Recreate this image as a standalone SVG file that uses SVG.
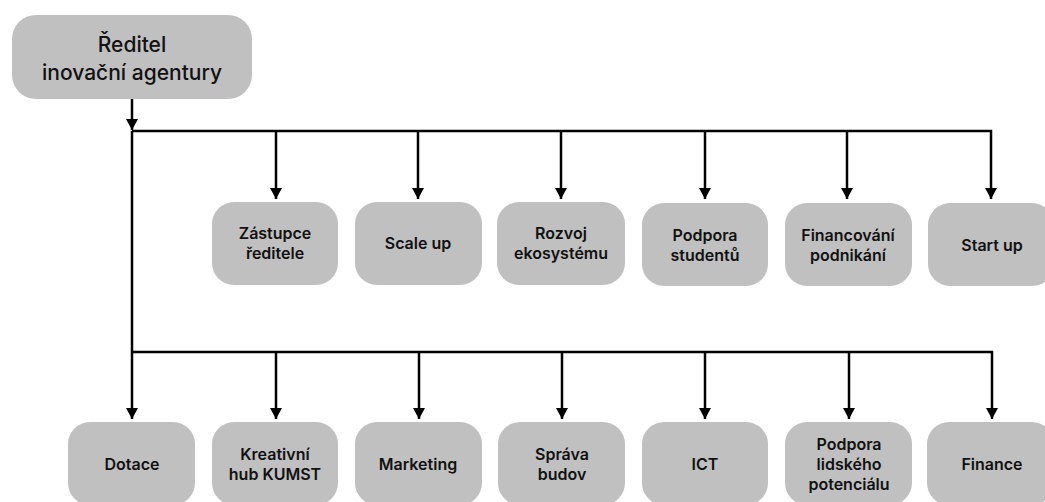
<svg xmlns="http://www.w3.org/2000/svg" width="1045" height="502" viewBox="0 0 1045 502">
<style>
.box{fill:#c0c0c0;}
.t{font-family:Inter,"Liberation Sans",sans-serif;font-size:16px;font-weight:600;fill:#111;text-anchor:middle;}
.tt{font-family:Inter,"Liberation Sans",sans-serif;font-size:21px;font-weight:500;fill:#111;text-anchor:middle;}
.c{stroke:#000;stroke-width:2.5;fill:none;}
</style>
<defs>
<marker id="ah" markerUnits="userSpaceOnUse" markerWidth="12" markerHeight="12" refX="11" refY="6" orient="auto">
<path d="M0,0 L11,6 L0,12 z" fill="#000"/>
</marker>
</defs>
<rect width="1045" height="502" fill="#fff"/>
<g id="connectors">
<line class="c" x1="132" y1="99" x2="132" y2="130" marker-end="url(#ah)"/>
<polyline class="c" points="132,131 991,131 991,199" marker-end="url(#ah)"/>
<line class="c" x1="276" y1="131" x2="276" y2="199" marker-end="url(#ah)"/>
<line class="c" x1="418" y1="131" x2="418" y2="199" marker-end="url(#ah)"/>
<line class="c" x1="561" y1="131" x2="561" y2="199" marker-end="url(#ah)"/>
<line class="c" x1="705" y1="131" x2="705" y2="199" marker-end="url(#ah)"/>
<line class="c" x1="847" y1="131" x2="847" y2="199" marker-end="url(#ah)"/>
<line class="c" x1="132" y1="131" x2="132" y2="419" marker-end="url(#ah)"/>
<polyline class="c" points="132,352 992,352 992,419" marker-end="url(#ah)"/>
<line class="c" x1="276" y1="352" x2="276" y2="419" marker-end="url(#ah)"/>
<line class="c" x1="419" y1="352" x2="419" y2="419" marker-end="url(#ah)"/>
<line class="c" x1="562" y1="352" x2="562" y2="419" marker-end="url(#ah)"/>
<line class="c" x1="705" y1="352" x2="705" y2="419" marker-end="url(#ah)"/>
<line class="c" x1="849" y1="352" x2="849" y2="419" marker-end="url(#ah)"/>
</g>
<g id="n-reditel">
<rect class="box" x="12" y="15" width="240" height="84" rx="24"/>
<text class="tt" x="132" y="52">Ředitel</text>
<text class="tt" x="132" y="80">inovační agentury</text>
</g>
<g id="n-zastupce">
<rect class="box" x="212" y="202" width="126" height="83" rx="22"/>
<text class="t" x="275" y="239">Zástupce</text>
<text class="t" x="275" y="259">ředitele</text>
</g>
<g id="n-scaleup">
<rect class="box" x="355" y="202" width="127" height="83" rx="22"/>
<text class="t" x="418" y="249">Scale up</text>
</g>
<g id="n-rozvoj">
<rect class="box" x="497" y="202" width="128" height="83" rx="22"/>
<text class="t" x="561" y="239">Rozvoj</text>
<text class="t" x="561" y="259">ekosystému</text>
</g>
<g id="n-podpora-studentu">
<rect class="box" x="642" y="203" width="126" height="83" rx="22"/>
<text class="t" x="705" y="241">Podpora</text>
<text class="t" x="705" y="261">studentů</text>
</g>
<g id="n-financovani">
<rect class="box" x="785" y="203" width="127" height="83" rx="22"/>
<text class="t" x="848" y="241">Financování</text>
<text class="t" x="848" y="261">podnikání</text>
</g>
<g id="n-startup">
<rect class="box" x="928" y="203" width="126" height="83" rx="22"/>
<text class="t" x="992" y="251">Start up</text>
</g>
<g id="n-dotace">
<rect class="box" x="68" y="422" width="127" height="83" rx="22"/>
<text class="t" x="132" y="470">Dotace</text>
</g>
<g id="n-kreativni">
<rect class="box" x="212" y="422" width="126" height="83" rx="22"/>
<text class="t" x="275" y="460">Kreativní</text>
<text class="t" x="275" y="480">hub KUMST</text>
</g>
<g id="n-marketing">
<rect class="box" x="355" y="422" width="127" height="83" rx="22"/>
<text class="t" x="418" y="470">Marketing</text>
</g>
<g id="n-sprava">
<rect class="box" x="498" y="422" width="127" height="83" rx="22"/>
<text class="t" x="562" y="460">Správa</text>
<text class="t" x="562" y="480">budov</text>
</g>
<g id="n-ict">
<rect class="box" x="642" y="422" width="126" height="83" rx="22"/>
<text class="t" x="705" y="470">ICT</text>
</g>
<g id="n-podpora-lidskeho">
<rect class="box" x="785" y="422" width="127" height="83" rx="22"/>
<text class="t" x="849" y="450">Podpora</text>
<text class="t" x="849" y="470">lidského</text>
<text class="t" x="849" y="490">potenciálu</text>
</g>
<g id="n-finance">
<rect class="box" x="927" y="422" width="127" height="83" rx="22"/>
<text class="t" x="992" y="470">Finance</text>
</g>
</svg>
